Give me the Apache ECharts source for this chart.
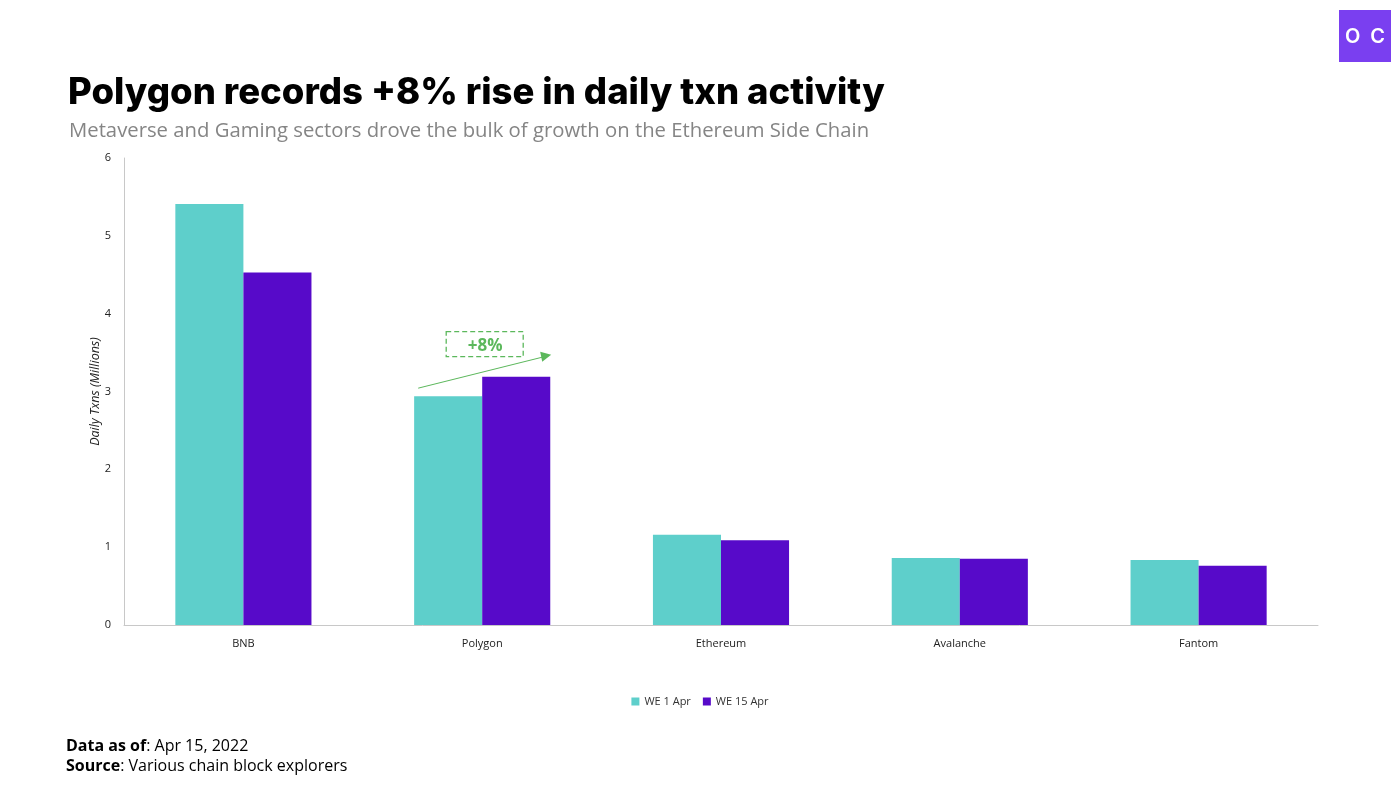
<!DOCTYPE html>
<html><head><meta charset="utf-8">
<script src="https://cdn.jsdelivr.net/npm/echarts@6/dist/echarts.min.js"></script>
<style>html,body{margin:0;padding:0;background:#fff}#c{width:1400px;height:787px}</style>
</head><body><div id="c"></div>
<script>
const categories = ['BNB', 'Polygon', 'Ethereum', 'Avalanche', 'Fantom'];
const seriesNames = ['WE 1 Apr', 'WE 15 Apr'];
const we1Apr = [5.41, 2.94, 1.16, 0.86, 0.835];
const we15Apr = [4.53, 3.19, 1.09, 0.85, 0.76];
const yTicks = [0, 1, 2, 3, 4, 5, 6];
const annotationText = '+8%';

const chart = echarts.init(document.getElementById('c'));
const font = '"Open Sans", "Noto Sans", sans-serif';
chart.setOption({
  animation: false,
  backgroundColor: '#fff',
  title: [
    { text: 'Polygon records +8% rise in daily txn activity', left: 63, top: 70,
      textStyle: { fontFamily: 'Inter, "Noto Sans", sans-serif', fontWeight: 800, fontSize: 36.5, color: '#000' } },
    { text: 'Metaverse and Gaming sectors drove the bulk of growth on the Ethereum Side Chain', left: 64, top: 116,
      textStyle: { fontFamily: font, fontWeight: 'normal', fontSize: 20.3, color: '#858585' } }
  ],
  grid: { left: 124, right: 82, top: 158, bottom: 162 },
  legend: {
    data: seriesNames, bottom: 75, left: 'center', itemWidth: 8, itemHeight: 8, itemGap: 12,
    icon: 'rect', textStyle: { fontFamily: font, fontSize: 11, color: '#333' }
  },
  xAxis: {
    type: 'category', data: categories,
    axisLine: { lineStyle: { color: '#c8c8c8', width: 1 } },
    axisTick: { show: false },
    axisLabel: { fontFamily: font, fontSize: 11, color: '#222', margin: 13 }
  },
  yAxis: {
    type: 'value', min: yTicks[0], max: yTicks[yTicks.length - 1], interval: 1,
    name: 'Daily Txns (Millions)', nameLocation: 'middle', nameGap: 22, nameRotate: 90,
    nameMoveOverlap: false,
    nameTextStyle: { fontFamily: font, fontSize: 12.5, fontStyle: 'italic', color: '#222' },
    axisLine: { show: true, lineStyle: { color: '#c8c8c8' } },
    axisTick: { show: false }, splitLine: { show: false },
    axisLabel: { fontFamily: font, fontSize: 11, color: '#222', margin: 13 }
  },
  series: [
    { name: seriesNames[0], type: 'bar', data: we1Apr, barGap: '0%', barCategoryGap: '43%',
      itemStyle: { color: '#5ECFCB' } },
    { name: seriesNames[1], type: 'bar', data: we15Apr, barGap: '0%', barCategoryGap: '43%',
      itemStyle: { color: '#570AC9' } }
  ]
});

const px = chart.convertToPixel({ xAxisIndex: 0 }, categories[1]);
const yA = chart.convertToPixel({ yAxisIndex: 0 }, we1Apr[1]);
const yB = chart.convertToPixel({ yAxisIndex: 0 }, we15Apr[1]);
const green = '#5CB85C';
chart.setOption({
  graphic: [
    { type: 'rect', shape: { x: 1339, y: 10, width: 52, height: 52 }, style: { fill: '#7A3FF0' } },
    { type: 'text', x: 1365, y: 37, style: { text: 'O  C', fill: '#fff', font: '600 20px Inter, sans-serif', align: 'center', verticalAlign: 'middle' } },
    { type: 'rect', shape: { x: px - 36, y: yB - 45, width: 77, height: 25 },
      style: { fill: 'none', stroke: green, lineWidth: 1.3, lineDash: [5, 3] } },
    { type: 'text', x: px + 3, y: yB - 31, style: { text: annotationText, fill: green, font: 'bold 17px "Open Sans", sans-serif', align: 'center', verticalAlign: 'middle' } },
    { type: 'line', shape: { x1: px - 64, y1: yA - 8, x2: px + 62, y2: yB - 20 }, style: { stroke: green, lineWidth: 1 } },
    { type: 'polygon', shape: { points: [[px + 69, yB - 22], [px + 58, yB - 25], [px + 60, yB - 15]] }, style: { fill: green } },
    { type: 'text', left: 66, top: 738, style: { rich: { b: { fontWeight: 'bold', fontSize: 16, fontFamily: font, fill: '#000' }, n: { fontSize: 16, fontFamily: font, fill: '#000' } },
      text: '{b|Data as of}{n|: Apr 15, 2022}' } },
    { type: 'text', left: 66, top: 758, style: { rich: { b: { fontWeight: 'bold', fontSize: 16, fontFamily: font, fill: '#000' }, n: { fontSize: 16, fontFamily: font, fill: '#000' } },
      text: '{b|Source}{n|: Various chain block explorers}' } }
  ]
});
</script></body></html>
